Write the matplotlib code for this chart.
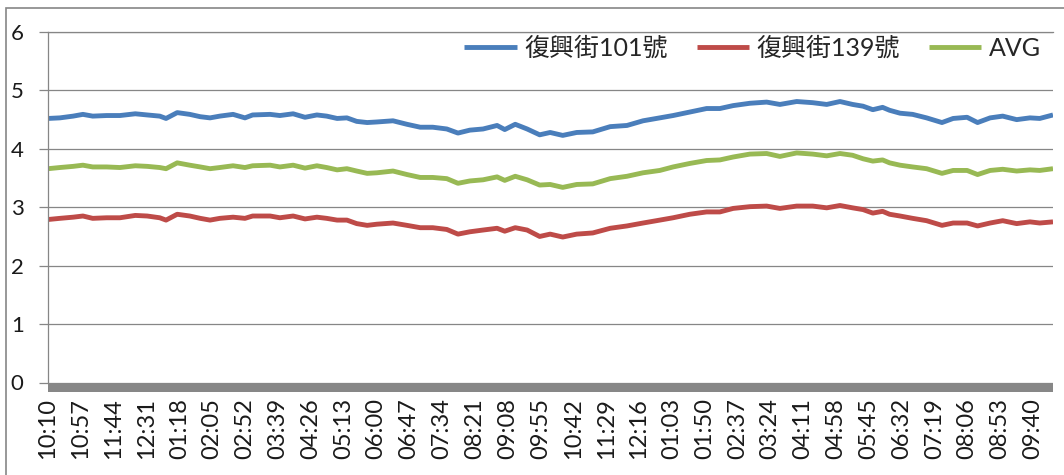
import matplotlib
matplotlib.use('Agg')
from matplotlib import pyplot as plt
from matplotlib.patches import Rectangle

plt.rcParams['font.family'] = ['Lato', 'Noto Sans CJK TC', 'DejaVu Sans']

# category labels, one every 47 samples (1 sample = 1 minute)
tick_step = 47
tick_labels = ['10:10', '10:57', '11:44', '12:31', '01:18', '02:05', '02:52', '03:39',
               '04:26', '05:13', '06:00', '06:47', '07:34', '08:21', '09:08', '09:55',
               '10:42', '11:29', '12:16', '01:03', '01:50', '02:37', '03:24', '04:11',
               '04:58', '05:45', '06:32', '07:19', '08:06', '08:53', '09:40']
n_samples = 1440

# sample index (minutes since 10:10) where values were read
minutes = [0, 17, 36, 50, 64, 84, 103, 125, 142, 160,
           169, 185, 203, 218, 232, 246, 265, 282, 293, 318,
           332, 351, 368, 385, 399, 414, 428, 442, 457, 471,
           494, 514, 533, 551, 571, 587, 604, 623, 643, 654,
           669, 686, 704, 719, 737, 757, 780, 805, 829, 852,
           876, 895, 919, 943, 962, 981, 1005, 1029, 1048, 1072,
           1095, 1115, 1134, 1152, 1167, 1181, 1195, 1205, 1220, 1238,
           1258, 1280, 1296, 1316, 1331, 1349, 1367, 1387, 1406, 1420,
           1439]

st_101 = [4.52, 4.53, 4.56, 4.59, 4.56, 4.57, 4.57, 4.60, 4.58, 4.56,
          4.52, 4.62, 4.59, 4.55, 4.53, 4.56, 4.59, 4.53, 4.58, 4.59,
          4.57, 4.60, 4.54, 4.58, 4.56, 4.52, 4.53, 4.47, 4.45, 4.46,
          4.48, 4.42, 4.37, 4.37, 4.34, 4.27, 4.32, 4.34, 4.40, 4.33,
          4.42, 4.34, 4.24, 4.28, 4.23, 4.28, 4.29, 4.38, 4.40, 4.48,
          4.53, 4.57, 4.63, 4.69, 4.69, 4.74, 4.78, 4.80, 4.76, 4.81,
          4.79, 4.76, 4.81, 4.76, 4.73, 4.67, 4.71, 4.66, 4.61, 4.59,
          4.53, 4.45, 4.52, 4.54, 4.45, 4.53, 4.56, 4.50, 4.53, 4.52,
          4.58]

st_139 = [2.79, 2.81, 2.83, 2.85, 2.81, 2.82, 2.82, 2.86, 2.85, 2.82,
          2.78, 2.88, 2.85, 2.81, 2.78, 2.81, 2.83, 2.81, 2.85, 2.85,
          2.82, 2.85, 2.80, 2.83, 2.81, 2.78, 2.78, 2.72, 2.69, 2.71,
          2.73, 2.69, 2.65, 2.65, 2.62, 2.54, 2.58, 2.61, 2.64, 2.59,
          2.65, 2.61, 2.50, 2.54, 2.49, 2.54, 2.56, 2.64, 2.68, 2.73,
          2.78, 2.82, 2.88, 2.92, 2.92, 2.98, 3.01, 3.02, 2.98, 3.02,
          3.02, 2.99, 3.03, 2.99, 2.96, 2.90, 2.93, 2.88, 2.85, 2.81,
          2.77, 2.69, 2.73, 2.73, 2.68, 2.73, 2.77, 2.72, 2.75, 2.73,
          2.75]

avg = [3.66, 3.68, 3.70, 3.72, 3.69, 3.69, 3.68, 3.71, 3.70, 3.68,
       3.66, 3.76, 3.72, 3.69, 3.66, 3.68, 3.71, 3.68, 3.71, 3.72,
       3.69, 3.72, 3.67, 3.71, 3.68, 3.64, 3.66, 3.62, 3.58, 3.59,
       3.62, 3.56, 3.51, 3.51, 3.49, 3.41, 3.45, 3.47, 3.52, 3.46,
       3.53, 3.47, 3.38, 3.39, 3.34, 3.39, 3.40, 3.49, 3.53, 3.59,
       3.63, 3.69, 3.75, 3.80, 3.81, 3.86, 3.91, 3.92, 3.87, 3.93,
       3.91, 3.88, 3.92, 3.89, 3.83, 3.79, 3.81, 3.76, 3.72, 3.69,
       3.66, 3.58, 3.63, 3.63, 3.56, 3.63, 3.65, 3.62, 3.64, 3.63,
       3.66]

names = ['復興街101號', '復興街139號', 'AVG']
colors = ['#4A7EBB', '#BE4B48', '#98B954']
grid_col = '#868686'
txt_col = '#1a1a1a'

W, H = 1064, 475
fig = plt.figure(figsize=(W / 100, H / 100), dpi=100)
ax = fig.add_axes([48 / W, 92.5 / H, 1005 / W, 350.5 / H])

for ys, lab, c in zip([st_101, st_139, avg], names, colors):
    ax.plot(minutes, ys, color=c, lw=3.5, label=lab, solid_capstyle='butt')

ax.set_xlim(0, n_samples - 1)
ax.set_ylim(0, 6)
ax.set_yticks(range(0, 7))
ax.yaxis.grid(True, color=grid_col, lw=0.9)
ax.set_axisbelow(True)

ax.set_xticks(range(0, n_samples, tick_step))
ax.set_xticklabels(tick_labels, rotation=90, va='top', ha='center')
ax.tick_params(axis='x', length=0, pad=11, labelsize=17, labelcolor=txt_col)
ax.tick_params(axis='y', length=6.5, width=0.9, color=grid_col, pad=11,
               labelsize=16, labelcolor=txt_col)

for s in ['right', 'bottom']:
    ax.spines[s].set_visible(False)
for s in ['left', 'top']:
    ax.spines[s].set_color(grid_col)
    ax.spines[s].set_linewidth(0.9)

# thick grey category axis under y=0
ax.add_patch(Rectangle((0, -9 / 350.5), 1, 9 / 350.5, transform=ax.transAxes,
                       facecolor='#878787', edgecolor='none', clip_on=False, zorder=3))

leg = ax.legend(loc='center right', bbox_to_anchor=(0.988, 0.954), ncol=3,
                frameon=False, fontsize=18, handlelength=2.1, handletextpad=0.3,
                columnspacing=1.15, borderpad=0, borderaxespad=0)
for t in leg.get_texts():
    t.set_color('#262626')

# chart area border (cut off on the right and bottom)
fig.patches.append(Rectangle((6 / W, -0.1), 1.2, 1.1 - 7.5 / H, transform=fig.transFigure,
                             fill=False, edgecolor=grid_col, lw=1.2))

plt.savefig('out.png', dpi=100)
